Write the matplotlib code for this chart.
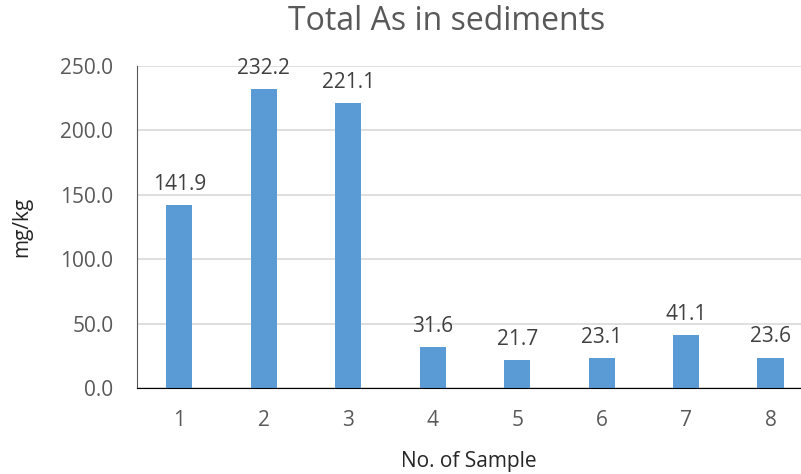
import numpy as np
import matplotlib.pyplot as plt

plt.rcParams['font.family'] = ['Open Sans', 'DejaVu Sans']

# data
samples = ['1', '2', '3', '4', '5', '6', '7', '8']
values = [141.9, 232.2, 221.1, 31.6, 21.7, 23.1, 41.1, 23.6]

fig = plt.figure(figsize=(8.01, 4.74), dpi=100)
ax = fig.add_axes([0.171, 0.181, 0.829, 0.68])

x = np.arange(1, len(samples) + 1)
bars = ax.bar(x, values, width=0.31, color='#5B9BD5', zorder=3)

for xi, v in zip(x, values):
    ax.text(xi, v + 8, f'{v:.1f}', ha='center', va='bottom', fontsize=15, color='#404040')

ax.set_xlim(0.5, 8.36)
ax.set_ylim(0, 250)
ax.set_yticks(np.arange(0, 251, 50))
ax.set_yticklabels([f'{t:.1f}' for t in np.arange(0, 251, 50)])
ax.set_xticks(x)
ax.set_xticklabels(samples)
ax.tick_params(axis='both', length=0, labelsize=15, colors='#595959')
ax.tick_params(axis='x', pad=16)
ax.tick_params(axis='y', pad=17)

ax.grid(axis='y', color='#D9D9D9', linewidth=1.2, zorder=0)
for s in ['top', 'right']:
    ax.spines[s].set_visible(False)
ax.spines['left'].set_color('#595959')
ax.spines['bottom'].set_color('black')
ax.spines['bottom'].set_zorder(4)

fig.text(0.557, 0.955, 'Total As in sediments', fontsize=23, color='#595959',
         ha='center', va='center')
ax.set_xlabel('No. of Sample', fontsize=15, color='#262626', labelpad=14)
ax.set_ylabel('mg/kg', fontsize=15, color='#262626', labelpad=20)

plt.savefig('out.png', dpi=100)
